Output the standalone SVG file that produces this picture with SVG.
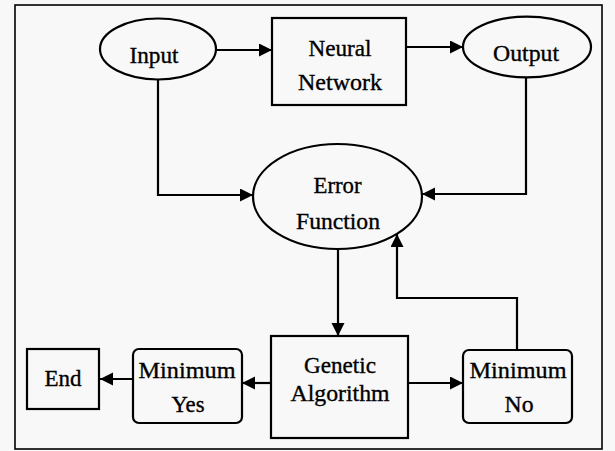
<svg xmlns="http://www.w3.org/2000/svg" width="615" height="451" viewBox="0 0 615 451">
<defs>
<style>
.shape{fill:none;stroke:#000;stroke-width:2.2}
.conn{fill:none;stroke:#000;stroke-width:2.2}
.lbl{font-family:'Liberation Serif','DejaVu Serif',serif;font-size:24px;fill:#000;stroke:#000;stroke-width:0.35;text-anchor:middle}
</style>
<marker id="ah" markerUnits="userSpaceOnUse" markerWidth="14" markerHeight="14" refX="13" refY="6.5" orient="auto">
<path d="M0,0 L13,6.5 L0,13 z" fill="#000"/>
</marker>
</defs>
<rect x="0" y="0" width="615" height="451" fill="#f8f8f8"/>
<rect x="15" y="5" width="587" height="444" fill="none" stroke="#000" stroke-width="1.6"/>

<g id="connectors">
<path class="conn" d="M216,50 L272,50" marker-end="url(#ah)"/>
<path class="conn" d="M406,47 L463,47" marker-end="url(#ah)"/>
<path class="conn" d="M158,79 L158,195 L253,195" marker-end="url(#ah)"/>
<path class="conn" d="M526,77 L526,194 L422,194" marker-end="url(#ah)"/>
<path class="conn" d="M338,249 L338,336" marker-end="url(#ah)"/>
<path class="conn" d="M271,383 L242,383" marker-end="url(#ah)"/>
<path class="conn" d="M133,379 L100,379" marker-end="url(#ah)"/>
<path class="conn" d="M408,383 L463,383" marker-end="url(#ah)"/>
<path class="conn" d="M517,350 L517,298 L397,298 L397,234" marker-end="url(#ah)"/>
</g>

<g id="input">
<ellipse class="shape" cx="158" cy="49" rx="58" ry="30.5"/>
<text class="lbl" x="154" y="63" textLength="49" lengthAdjust="spacingAndGlyphs">Input</text>
</g>
<g id="neural-network">
<rect class="shape" x="272" y="18" width="134" height="87"/>
<text class="lbl" x="340" y="56" textLength="63" lengthAdjust="spacingAndGlyphs">Neural</text>
<text class="lbl" x="340" y="90" textLength="84" lengthAdjust="spacingAndGlyphs">Network</text>
</g>
<g id="output">
<ellipse class="shape" cx="527" cy="47" rx="64" ry="30.3"/>
<text class="lbl" x="526" y="61" textLength="66" lengthAdjust="spacingAndGlyphs">Output</text>
</g>
<g id="error-function">
<ellipse class="shape" cx="337.5" cy="196.5" rx="84.5" ry="52.5"/>
<text class="lbl" x="337.5" y="193" textLength="48" lengthAdjust="spacingAndGlyphs">Error</text>
<text class="lbl" x="338" y="229" textLength="84" lengthAdjust="spacingAndGlyphs">Function</text>
</g>
<g id="genetic-algorithm">
<rect class="shape" x="271" y="336" width="137" height="102"/>
<text class="lbl" x="340" y="373" textLength="72" lengthAdjust="spacingAndGlyphs">Genetic</text>
<text class="lbl" x="340" y="401" textLength="99" lengthAdjust="spacingAndGlyphs">Algorithm</text>
</g>
<g id="minimum-yes">
<rect class="shape" x="133" y="349" width="109" height="74" rx="6"/>
<text class="lbl" x="187" y="378" textLength="97" lengthAdjust="spacingAndGlyphs">Minimum</text>
<text class="lbl" x="188" y="412" textLength="33" lengthAdjust="spacingAndGlyphs">Yes</text>
</g>
<g id="end">
<rect class="shape" x="27" y="349" width="72" height="60"/>
<text class="lbl" x="63" y="386" textLength="37" lengthAdjust="spacingAndGlyphs">End</text>
</g>
<g id="minimum-no">
<rect class="shape" x="463" y="350" width="109" height="73" rx="6"/>
<text class="lbl" x="518" y="378" textLength="97" lengthAdjust="spacingAndGlyphs">Minimum</text>
<text class="lbl" x="519" y="412" textLength="29" lengthAdjust="spacingAndGlyphs">No</text>
</g>
</svg>
